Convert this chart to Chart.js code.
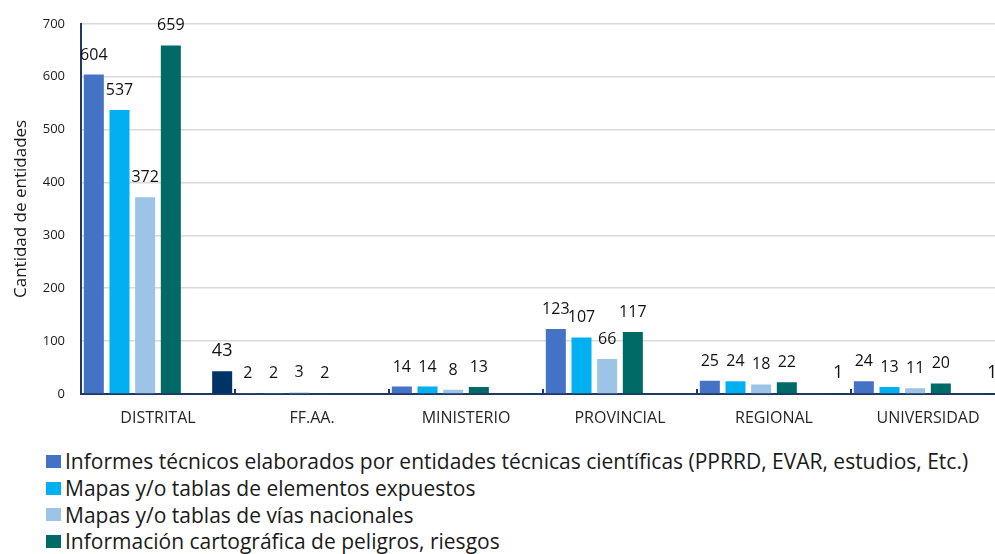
<!DOCTYPE html>
<html>
<head>
<meta charset="utf-8">
<script src="https://cdn.jsdelivr.net/npm/chart.js@4.4.0/dist/chart.umd.min.js"></script>
<style>
    html, body { margin: 0; padding: 0; background: #fff; overflow: hidden; width: 995px; height: 554px; }
    #wrap { position: absolute; left: 0; top: 0; width: 1005px; height: 432px; }
    #legend { position: absolute; left: 46px; top: 448px; font-family: 'Open Sans', sans-serif; font-size: 21px; color: #1a1a1a; }
    #legend div { height: 26.7px; display: flex; align-items: center; white-space: nowrap; }
    #legend .box { display: inline-block; width: 15px; height: 13px; margin-right: 4px; }
</style>
</head>
<body>
<div id="wrap"><canvas id="chart" width="1005" height="432"></canvas></div>
<div id="legend"></div>
<script>
// Datos
const categories = ['DISTRITAL', 'FF.AA.', 'MINISTERIO', 'PROVINCIAL', 'REGIONAL', 'UNIVERSIDAD'];
const seriesNames = [
    'Informes técnicos elaborados por entidades técnicas científicas (PPRRD, EVAR, estudios, Etc.)',
    'Mapas y/o tablas de elementos expuestos',
    'Mapas y/o tablas de vías nacionales',
    'Información cartográfica de peligros, riesgos',
    'Sin dato',
    'Otros'
];
const informes = [604, 2, 14, 123, 25, 24];
const mapasExpuestos = [537, 2, 14, 107, 24, 13];
const mapasVias = [372, 3, 8, 66, 18, 11];
const cartografica = [659, 2, 13, 117, 22, 20];
const sinDato = [null, null, null, null, null, null];
const otros = [43, null, null, null, 1, 1];
const yTicks = [0, 100, 200, 300, 400, 500, 600, 700];

const colors = ['#4472C4', '#00B0F0', '#9DC3E6', '#006A66', '#7F7F7F', '#003366'];
const FONT = 'Open Sans, sans-serif';

const allSeries = [informes, mapasExpuestos, mapasVias, cartografica, sinDato, otros];
const datasets = allSeries.map((arr, i) => ({
    label: seriesNames[i],
    data: arr,
    backgroundColor: colors[i],
    borderWidth: 0,
    categoryPercentage: 1.0,
    barPercentage: 0.78,
    labelSize: i === 5 ? 18 : 16
}));

// Etiquetas de valor encima de cada barra + marcas del eje X
const valueLabels = {
    id: 'valueLabels',
    afterDatasetsDraw(chart) {
        const ctx = chart.ctx;
        ctx.save();
        chart.data.datasets.forEach((ds, i) => {
            const meta = chart.getDatasetMeta(i);
            meta.data.forEach((bar, j) => {
                const v = ds.data[j];
                if (v === null) return;
                ctx.font = ds.labelSize + 'px ' + FONT;
                ctx.fillStyle = '#111';
                ctx.textAlign = 'center';
                ctx.textBaseline = 'alphabetic';
                ctx.fillText(v, bar.x, bar.y - 15);
            });
        });
        // marcas interiores entre categorías
        const xs = chart.scales.x;
        const bottom = chart.chartArea.bottom;
        ctx.strokeStyle = '#1F3864';
        ctx.lineWidth = 2;
        for (let k = 0; k <= categories.length; k++) {
            const px = xs.getPixelForValue(k - 0.5);
            ctx.beginPath();
            ctx.moveTo(px, bottom);
            ctx.lineTo(px, bottom - 5);
            ctx.stroke();
        }
        ctx.restore();
    }
};

new Chart(document.getElementById('chart'), {
    type: 'bar',
    data: { labels: categories, datasets: datasets },
    options: {
        responsive: false,
        animation: false,
        layout: { padding: { top: 21, right: 0, left: 0, bottom: 0 } },
        plugins: {
            legend: { display: false },
            tooltip: { enabled: false }
        },
        scales: {
            x: {
                grid: { display: false, drawTicks: false },
                border: { color: '#1F3864', width: 2 },
                ticks: { color: '#262626', font: { family: FONT, size: 16 }, padding: 15 },
                afterFit: function(scale) { scale.height = 38; }
            },
            y: {
                min: 0,
                max: 700,
                afterBuildTicks: function(scale) { scale.ticks = yTicks.map(v => ({ value: v })); },
                ticks: { color: '#1a1a1a', font: { family: FONT, size: 13 }, padding: 16 },
                grid: { color: '#D9D9D9', lineWidth: 1.5, drawTicks: false },
                border: { color: '#1F3864', width: 2 },
                title: {
                    display: true,
                    text: 'Cantidad de entidades',
                    color: '#1a1a1a',
                    font: { family: FONT, size: 17 },
                    padding: { top: 11, bottom: 0 }
                },
                afterFit: function(scale) { scale.width = 81; }
            }
        }
    },
    plugins: [valueLabels]
});

// Leyenda (solo las 4 series principales)
const legend = document.getElementById('legend');
for (let i = 0; i < 4; i++) {
    const row = document.createElement('div');
    row.innerHTML = '<span class="box" style="background:' + colors[i] + '"></span>' + seriesNames[i];
    legend.appendChild(row);
}
</script>
</body>
</html>
